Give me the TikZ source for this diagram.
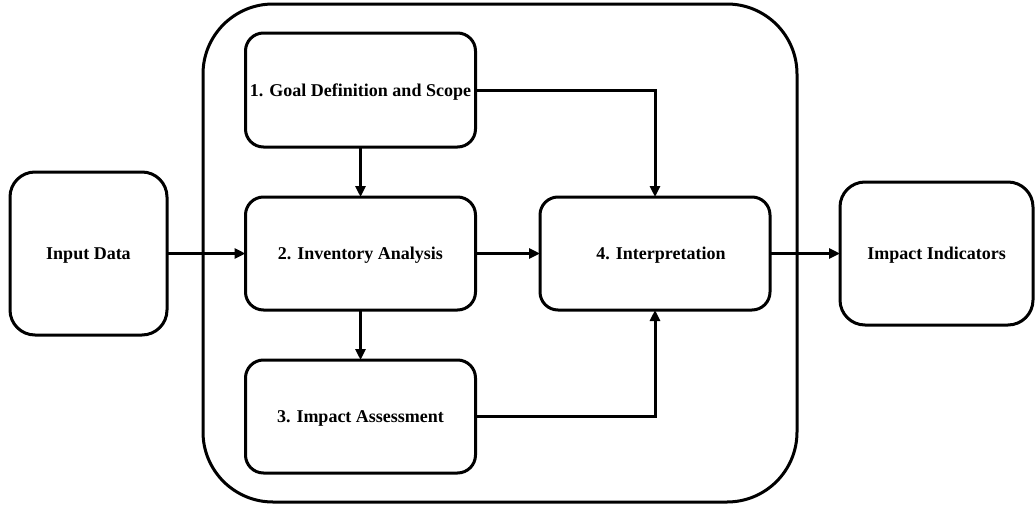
\documentclass[tikz,border=0pt]{standalone}
\usepackage{fontspec}
\setmainfont{Liberation Serif}
\usetikzlibrary{arrows.meta}
\begin{document}
\begin{tikzpicture}[x=1pt,y=-1pt,
  box/.style={draw=black,line width=3pt,rounded corners=18pt,minimum width=230pt,minimum height=113pt,inner sep=0pt,outer sep=0pt,font=\fontsize{18}{20}\selectfont\bfseries,text height=12pt,text depth=0pt},
  endbox/.style={box,rounded corners=25pt},
  frame/.style={draw=black,line width=3pt,rounded corners=70pt,minimum width=594pt,minimum height=498pt,inner sep=0pt,outer sep=0pt},
  conn/.style={line width=3pt,-{Triangle[length=11pt,width=10pt]}}
]
\useasboundingbox (0,0) rectangle (1036,506);
\node[frame] (outer) at (500,253) {};
\node[endbox,minimum width=157pt,minimum height=163pt] (input) at (88.5,253.5) {Input Data};
\node[box,minimum height=114pt] (g1) at (360.5,90) {1. Goal Definition and Scope};
\node[box] (g2) at (360.5,253.5) {2. Inventory Analysis};
\node[box] (g3) at (360.5,416.5) {3. Impact Assessment};
\node[box] (g4) at (655,253.5) {\hspace*{12pt}4. Interpretation};
\node[endbox,minimum width=193pt,minimum height=143pt] (out) at (936.5,253.5) {Impact Indicators};
\draw[conn] (input.east) -- (g2.west);
\draw[conn] (g1.south) -- (g2.north);
\draw[conn] (g2.south) -- (g3.north);
\draw[conn] (g2.east) -- (g4.west);
\draw[conn] (g1.east) -| (g4.north);
\draw[conn] (g3.east) -| (g4.south);
\draw[conn] (g4.east) -- (out.west);
\end{tikzpicture}
\end{document}
